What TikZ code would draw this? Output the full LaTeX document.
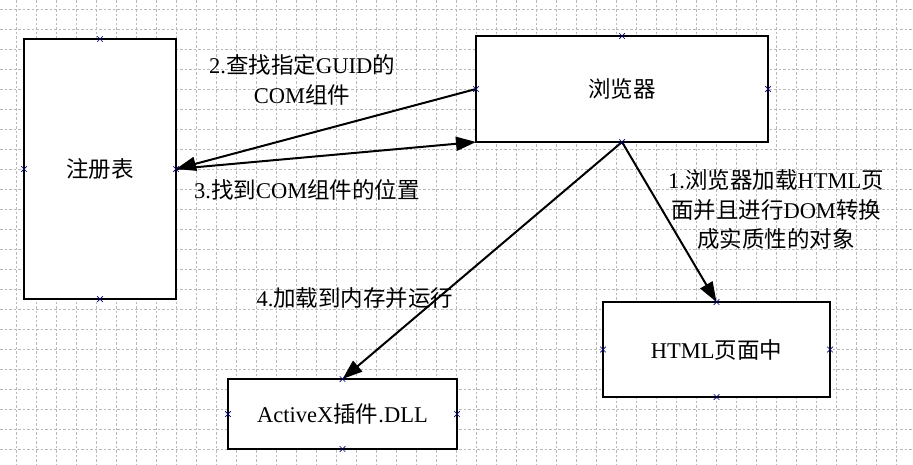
\documentclass[tikz,border=0pt]{standalone}
\usepackage{fontspec}
\setmainfont{Liberation Serif}
\newfontfamily\cjk{Noto Sans CJK SC}
\newcommand\zh[1]{{\cjk #1}}
\usetikzlibrary{arrows.meta,shapes.misc}
\tikzset{
  gridline/.style={gray!55, line width=.6pt, dash pattern=on 2.5pt off 2pt},
  block/.style={draw, line width=2.5pt, fill=white, outer sep=0pt, inner sep=0pt,
    font=\fontsize{22.5pt}{29pt}\selectfont},
  link/.style={line width=2pt, -{Triangle[length=20pt,width=14pt]}},
  note/.style={align=center, inner sep=0pt, font=\fontsize{22.5pt}{29.5pt}\selectfont},
  cpoint/.style={cross out, draw=blue!45!black, line width=.7pt, minimum size=5pt, inner sep=0pt}
}
\begin{document}
\begin{tikzpicture}[x=1pt,y=-1pt]
\useasboundingbox (0,0) rectangle (913,464);
\fill[white] (0,0) rectangle (913,464);
% grid
\foreach \gx in {16,36,...,896} \draw[gridline] (\gx,0) -- (\gx,464);
\foreach \gy in {9,29,...,449} \draw[gridline] (0,\gy) -- (913,\gy);

\node[block, minimum width=152pt, minimum height=260pt] (reg) at (100,169) {\zh{注册表}};
\node[block, minimum width=292pt, minimum height=106pt] (browser) at (622,89) {\zh{浏览器}};
\node[block, minimum width=229pt, minimum height=70pt] (dll) at (342.5,414) {ActiveX\zh{插件}.DLL};
\node[block, minimum width=227pt, minimum height=95pt] (html) at (716.5,349.5) {HTML\zh{页面中}};

\draw[link] (browser.west) -- (reg.east);
\draw[link] (reg.east) -- (browser.south west);
\draw[link] (browser.south) -- (dll.north);
\draw[link] (browser.south) -- (html.north);

\foreach \n in {reg,browser,dll,html}
  \foreach \a in {north,south,east,west}
    \node[cpoint] at (\n.\a) {};

\node[note] (lbltwo) at (302,80) {2.\zh{查找指定}GUID\zh{的}\\COM\zh{组件}};
\node[note] (lblthree) at (307,190) {3.\zh{找到}COM\zh{组件的位置}};
\node[note] (lblone) at (776,210) {1.\zh{浏览器加载}HTML\zh{页}\\\zh{面并且进行}DOM\zh{转换}\\\zh{成实质性的对象}};
\node[note] (lblfour) at (355,298) {4.\zh{加载到内存并运行}};
\end{tikzpicture}
\end{document}
